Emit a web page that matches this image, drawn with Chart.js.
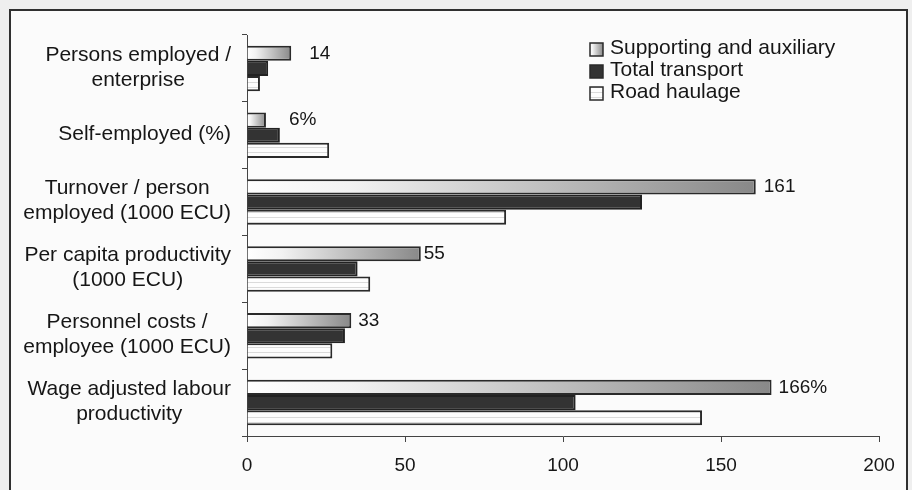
<!DOCTYPE html>
<html>
<head>
<meta charset="utf-8">
<script src="https://cdn.jsdelivr.net/npm/chart.js@4/dist/chart.umd.min.js"></script>
<style>
  html, body { margin: 0; padding: 0; background: #f0f0f0; }
  #wrap { width: 912px; height: 490px; position: relative; }
</style>
</head>
<body>
<div id="wrap"><canvas id="c" width="912" height="490"></canvas></div>
<script>
// Category labels (each entry is the list of lines of one label)
const categories = [
  ['Persons employed /', 'enterprise'],
  ['Self-employed (%)'],
  ['Turnover / person', 'employed (1000 ECU)'],
  ['Per capita productivity', '(1000 ECU)'],
  ['Personnel costs /', 'employee (1000 ECU)'],
  ['Wage adjusted labour', 'productivity']
];
const seriesNames = ['Supporting and auxiliary', 'Total transport', 'Road haulage'];
const supporting = [14, 6, 161, 55, 33, 166];
const totalTransport = [6.7, 10.4, 125, 35, 31, 104];
const roadHaulage = [4.1, 26, 82, 39, 27, 144];
const supportingLabels = ['14', '6%', '161', '55', '33', '166%'];
const xTicks = [0, 50, 100, 150, 200];

const TEXT = '#161616';
const EDGE = '#2a2a2a';
const FONT = '"Liberation Sans", Arial, sans-serif';

// Light fill with faint horizontal hatching for the road haulage bars
function hatchPattern() {
  const p = document.createElement('canvas');
  p.width = 4; p.height = 5;
  const g = p.getContext('2d');
  g.fillStyle = '#fdfdfd'; g.fillRect(0, 0, 4, 5);
  g.fillStyle = '#dadada'; g.fillRect(0, 2, 4, 1);
  return document.getElementById('c').getContext('2d').createPattern(p, 'repeat');
}
const roadFill = hatchPattern();

// Horizontal white-to-grey gradient along each supporting bar
function shadeGradient(ctx, x0, x1) {
  const g = ctx.createLinearGradient(x0, 0, x1, 0);
  g.addColorStop(0, '#ffffff');
  g.addColorStop(0.2, '#f2f2f2');
  g.addColorStop(1, '#888888');
  return g;
}

const backdrop = {
  id: 'backdrop',
  beforeDraw(chart) {
    const c = chart.ctx;
    c.save();
    c.fillStyle = '#efefef';
    c.fillRect(0, 0, chart.width, chart.height);
    c.fillStyle = '#fbfbfb';
    c.fillRect(10, 10, 897, chart.height);
    c.strokeStyle = '#303030';
    c.lineWidth = 2;
    c.strokeRect(10, 10, 897, chart.height + 20);
    c.restore();
  }
};

const categoryLabels = {
  id: 'categoryLabels',
  afterDraw(chart, args, opts) {
    const c = chart.ctx, ys = chart.scales.y;
    c.save();
    c.font = '21px ' + FONT;
    c.fillStyle = TEXT;
    c.textAlign = 'center';
    c.textBaseline = 'middle';
    categories.forEach((lines, i) => {
      const yc = ys.getPixelForValue(i) - 1;
      const w = Math.max(...lines.map(l => c.measureText(l).width));
      const cx = opts.right - w / 2;
      const lh = 25;
      lines.forEach((l, k) => {
        c.fillText(l, cx, yc + (k - (lines.length - 1) / 2) * lh);
      });
    });
    c.restore();
  }
};

const valueLabels = {
  id: 'valueLabels',
  afterDatasetsDraw(chart, args, opts) {
    const c = chart.ctx;
    const meta = chart.getDatasetMeta(0);
    c.save();
    c.font = '19px ' + FONT;
    c.fillStyle = TEXT;
    c.textAlign = 'left';
    c.textBaseline = 'middle';
    meta.data.forEach((bar, i) => {
      c.fillText(supportingLabels[i], bar.x + opts.nudge[i], bar.y);
    });
    c.restore();
  }
};

const legendBox = {
  id: 'legendBox',
  afterDraw(chart, args, opts) {
    const c = chart.ctx;
    c.save();
    c.font = '21px ' + FONT;
    c.textBaseline = 'alphabetic';
    c.textAlign = 'left';
    seriesNames.forEach((name, i) => {
      const base = opts.top + i * 22;
      const bx = opts.left, by = base - 11, s = 13;
      let fill;
      if (i === 0) fill = shadeGradient(c, bx, bx + s);
      else if (i === 1) fill = '#333333';
      else fill = roadFill;
      c.fillStyle = fill;
      c.fillRect(bx, by, s, s);
      c.strokeStyle = EDGE;
      c.lineWidth = 1.5;
      c.strokeRect(bx, by, s, s);
      c.fillStyle = TEXT;
      c.fillText(name, bx + 20, base);
    });
    c.restore();
  }
};

new Chart(document.getElementById('c'), {
  type: 'bar',
  data: {
    labels: categories.map(l => l.join(' ')),
    datasets: [
      {
        label: seriesNames[0],
        data: supporting,
        backgroundColor: (ctx) => {
          const xs = ctx.chart.scales.x;
          if (!xs || ctx.dataIndex === undefined) return '#c0c0c0';
          const x0 = xs.getPixelForValue(0);
          const x1 = xs.getPixelForValue(supporting[ctx.dataIndex]);
          if (!isFinite(x0) || !isFinite(x1) || x1 <= x0) return '#c0c0c0';
          return shadeGradient(ctx.chart.ctx, x0, x1);
        },
        borderColor: EDGE,
        borderWidth: 2
      },
      {
        label: seriesNames[1],
        data: totalTransport,
        backgroundColor: '#333333',
        borderColor: '#222222',
        borderWidth: 2
      },
      {
        label: seriesNames[2],
        data: roadHaulage,
        backgroundColor: roadFill,
        borderColor: EDGE,
        borderWidth: 2
      }
    ]
  },
  options: {
    indexAxis: 'y',
    responsive: false,
    animation: false,
    events: [],
    categoryPercentage: 0.68,
    barPercentage: 1.0,
    layout: { padding: { left: 0, right: 33, top: 35, bottom: 0 } },
    scales: {
      x: {
        min: 0,
        max: 200,
        afterBuildTicks(scale) { scale.ticks = xTicks.map(v => ({ value: v })); },
        afterFit(scale) { scale.height = 54; },
        grid: { drawOnChartArea: false, drawTicks: true, tickLength: 6, color: '#444' },
        border: { display: true, color: '#444', width: 1 },
        ticks: { color: TEXT, font: { size: 19, family: FONT }, padding: 12, maxRotation: 0 }
      },
      y: {
        afterFit(scale) { scale.width = 247; },
        grid: { drawOnChartArea: false, drawTicks: true, tickLength: 5, offset: true, color: '#444' },
        border: { display: true, color: '#444', width: 1 },
        ticks: { display: false }
      }
    },
    plugins: {
      legend: { display: false },
      tooltip: { enabled: false },
      categoryLabels: { right: 231 },
      valueLabels: { nudge: [18, 23, 8, 3, 7, 7] },
      legendBox: { left: 590, top: 54 }
    }
  },
  plugins: [backdrop, categoryLabels, valueLabels, legendBox]
});
</script>
</body>
</html>
